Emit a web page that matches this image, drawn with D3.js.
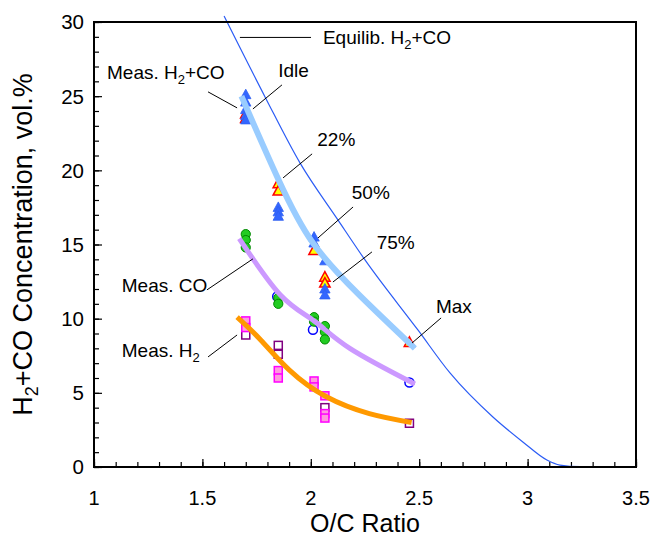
<!DOCTYPE html>
<html><head><meta charset="utf-8">
<script src="https://cdn.jsdelivr.net/npm/d3@7"></script>
<style>body{margin:0;background:#fff}svg{display:block;font-family:"Liberation Sans",Arial,sans-serif}</style>
</head><body><svg id="c" width="650" height="538"></svg>
<script>
// ---- data ----
const xTicks = [1, 1.5, 2, 2.5, 3, 3.5];
const yTicks = [0, 5, 10, 15, 20, 25, 30];

// Measured H2+CO (filled blue triangles)
const measH2COx = [1.70, 1.70, 1.70, 1.70, 1.70, 1.85, 1.85, 1.85, 2.015, 2.015, 2.065, 2.065, 2.065];
const measH2COy = [25.1, 24.6, 24.1, 23.7, 23.4, 17.5, 17.2, 16.9, 15.5, 15.1, 13.9, 12.0, 11.6];
// H2+CO (yellow triangles, red outline)
const altH2COx = [1.70, 1.70, 1.85, 1.85, 2.015, 2.065, 2.065, 2.455];
const altH2COy = [23.8, 23.5, 19.1, 18.6, 14.6, 12.8, 12.4, 8.4];
// Measured CO (green circles)
const measCOx = [1.70, 1.70, 1.70, 1.85, 1.85, 2.015, 2.015, 2.065, 2.065, 2.065];
const measCOy = [15.7, 15.3, 14.8, 11.4, 11.0, 10.1, 9.8, 9.5, 9.1, 8.6];
// CO (open blue circles)
const altCOx = [1.845, 2.01, 2.455];
const altCOy = [11.5, 9.25, 5.7];
// Measured H2 (pink squares)
const measH2x = [1.70, 1.70, 1.85, 1.85, 2.015, 2.015, 2.065, 2.065, 2.065];
const measH2y = [9.85, 9.4, 6.5, 6.0, 5.8, 5.4, 4.8, 3.6, 3.3];
// H2 (open purple squares)
const altH2x = [1.70, 1.85, 1.85, 2.065, 2.455];
const altH2y = [8.9, 8.2, 7.6, 4.0, 2.95];

// Fitted trend curves
const fitH2COx = [1.68, 1.85, 2.01, 2.23, 2.48];
const fitH2COy = [25.0, 19.4, 15.1, 11.5, 8.0];
const fitCOx = [1.67, 1.86, 2.015, 2.18, 2.48];
const fitCOy = [15.4, 11.6, 9.85, 8.0, 5.6];
const fitH2x = [1.66, 1.77, 1.90, 2.07, 2.27, 2.465];
const fitH2y = [10.1, 8.55, 6.55, 4.75, 3.6, 3.0];

// Equilibrium H2+CO
const eqX = [1.600, 1.789, 1.950, 2.125, 2.250, 2.494, 2.642, 2.840, 2.978, 3.089, 3.149, 3.242, 3.5];
const eqY = [30.4, 24.95, 20.5, 16.66, 13.96, 9.24, 6.34, 3.37, 1.69, 0.47, 0.13, 0.02, 0];

// Annotations (text parts, text anchor point, leader line) in data units
const annotations = [
  {parts: [["Meas. H"], ["2", 1], ["+CO"]], tx: 1.060, ty: 26.16, l: [1.526, 25.29, 1.660, 24.21]},
  {parts: [["Idle"]], tx: 1.850, ty: 26.30, l: [1.867, 25.76, 1.733, 24.14]},
  {parts: [["Equilib. H"], ["2", 1], ["+CO"]], tx: 2.056, ty: 28.52, l: [1.673, 28.96, 2.001, 28.96]},
  {parts: [["22%"]], tx: 2.030, ty: 21.61, l: [2.006, 21.11, 1.872, 19.49]},
  {parts: [["50%"]], tx: 2.189, ty: 18.07, l: [2.195, 17.53, 2.033, 15.44]},
  {parts: [["75%"]], tx: 2.304, ty: 14.70, l: [2.282, 14.50, 2.102, 12.47]},
  {parts: [["Max"]], tx: 2.577, ty: 10.38, l: [2.601, 10.05, 2.467, 8.36]},
  {parts: [["Meas. CO"]], tx: 1.128, ty: 11.80, l: [1.733, 14.03, 1.521, 11.94]},
  {parts: [["Meas. H"], ["2", 1]], tx: 1.128, ty: 7.42, l: [1.660, 8.90, 1.526, 7.42]}
];

// ---- drawing ----
const svg = d3.select("#c");
const L = 94, R = 636, T = 22, B = 467;
const x = d3.scaleLinear().domain([1, 3.5]).range([L, R]);
const y = d3.scaleLinear().domain([0, 30]).range([B, T]);
const zip = (a, b) => a.map((v, i) => [v, b[i]]);

// axes (inward ticks)
const gx = svg.append("g").attr("transform", `translate(0,${B})`);
gx.call(d3.axisTop(x).tickValues(d3.range(10, 36).map(v => v / 10)).tickSize(5).tickFormat(""));
gx.call(g => g.select(".domain").remove());
const gx2 = svg.append("g").attr("transform", `translate(0,${B})`);
gx2.call(d3.axisTop(x).tickValues(xTicks).tickSize(8).tickFormat(""));
gx2.call(g => g.select(".domain").remove());
svg.append("g").selectAll("text").data(xTicks).join("text")
  .attr("x", d => x(d)).attr("y", 505).attr("text-anchor", "middle")
  .attr("font-size", 20).text(d => d);

const gy = svg.append("g").attr("transform", `translate(${L},0)`);
gy.call(d3.axisRight(y).tickValues(d3.range(0, 31)).tickSize(5).tickFormat(""));
gy.call(g => g.select(".domain").remove());
const gy2 = svg.append("g").attr("transform", `translate(${L},0)`);
gy2.call(d3.axisRight(y).tickValues(yTicks).tickSize(8).tickFormat(""));
gy2.call(g => g.select(".domain").remove());
svg.append("g").selectAll("text").data(yTicks).join("text")
  .attr("x", 84).attr("y", d => y(d)).attr("dy", "0.36em").attr("text-anchor", "end")
  .attr("font-size", 20.5).text(d => d);
svg.selectAll(".tick line").attr("stroke", "#000").attr("stroke-width", 1.2);

// markers
const tri = "M0,-5.5L5.2,4L-5.2,4Z";
svg.append("g").selectAll("path").data(zip(altH2COx, altH2COy)).join("path")
  .attr("d", tri).attr("transform", d => `translate(${x(d[0])},${y(d[1])})`)
  .attr("fill", "#ffff00").attr("stroke", "#ff0000").attr("stroke-width", 1.5);
svg.append("g").selectAll("path").data(zip(measH2COx, measH2COy)).join("path")
  .attr("d", tri).attr("transform", d => `translate(${x(d[0])},${y(d[1])})`)
  .attr("fill", "#3366ff").attr("stroke", "#2f5ff0").attr("stroke-width", 0.8);
svg.append("g").selectAll("circle").data(zip(altCOx, altCOy)).join("circle")
  .attr("cx", d => x(d[0])).attr("cy", d => y(d[1])).attr("r", 4.5)
  .attr("fill", "#fff").attr("stroke", "#0000ff").attr("stroke-width", 1.5);
svg.append("g").selectAll("circle").data(zip(measCOx, measCOy)).join("circle")
  .attr("cx", d => x(d[0])).attr("cy", d => y(d[1])).attr("r", 4.6)
  .attr("fill", "#22cc22").attr("stroke", "#008800").attr("stroke-width", 1);
svg.append("g").selectAll("rect").data(zip(altH2x, altH2y)).join("rect")
  .attr("x", d => x(d[0]) - 4).attr("y", d => y(d[1]) - 4).attr("width", 8).attr("height", 8)
  .attr("fill", "#fff").attr("stroke", "#800080").attr("stroke-width", 1.5);
svg.append("g").selectAll("rect").data(zip(measH2x, measH2y)).join("rect")
  .attr("x", d => x(d[0]) - 4).attr("y", d => y(d[1]) - 4).attr("width", 8).attr("height", 8)
  .attr("fill", "#ff99dd").attr("stroke", "#ff00ff").attr("stroke-width", 1.5);

// fitted curves
const line = d3.line().x(d => x(d[0])).y(d => y(d[1])).curve(d3.curveNatural);
svg.append("path").attr("d", line(zip(fitH2COx, fitH2COy))).attr("fill", "none")
  .attr("stroke", "#99ccff").attr("stroke-width", 6);
svg.append("path").attr("d", line(zip(fitCOx, fitCOy))).attr("fill", "none")
  .attr("stroke", "#cc99ff").attr("stroke-width", 5);
svg.append("path").attr("d", line(zip(fitH2x, fitH2y))).attr("fill", "none")
  .attr("stroke", "#ff9900").attr("stroke-width", 5);

// equilibrium
const eqLine = d3.line().x(d => x(d[0])).y(d => y(d[1])).curve(d3.curveMonotoneX);
svg.append("path").attr("d", eqLine(zip(eqX, eqY))).attr("fill", "none")
  .attr("stroke", "#2b5cf5").attr("stroke-width", 1.2);

// annotations
const ag = svg.append("g");
annotations.forEach(a => {
  ag.append("line").attr("x1", x(a.l[0])).attr("y1", y(a.l[1])).attr("x2", x(a.l[2])).attr("y2", y(a.l[3]))
    .attr("stroke", "#000").attr("stroke-width", 1);
  const t = ag.append("text").attr("x", x(a.tx)).attr("y", y(a.ty)).attr("font-size", 19);
  let sub = false;
  a.parts.forEach(p => {
    const s = t.append("tspan").text(p[0]);
    if (p[1]) { s.attr("font-size", 13).attr("dy", 5); sub = true; }
    else if (sub) { s.attr("dy", -5); sub = false; }
  });
});

// frame
svg.append("rect").attr("x", L).attr("y", T).attr("width", R - L).attr("height", B - T)
  .attr("fill", "none").attr("stroke", "#000").attr("stroke-width", 2);

// axis titles
svg.append("text").attr("x", (L + R) / 2).attr("y", 532).attr("text-anchor", "middle")
  .attr("font-size", 25).text("O/C Ratio");
const yt = svg.append("text").attr("transform", `translate(32,${(T + B) / 2}) rotate(-90)`)
  .attr("text-anchor", "middle").attr("font-size", 27);
yt.append("tspan").text("H");
yt.append("tspan").text("2").attr("font-size", 18).attr("dy", 6);
yt.append("tspan").text("+CO Concentration, vol.%").attr("dy", -6);
</script></body></html>
